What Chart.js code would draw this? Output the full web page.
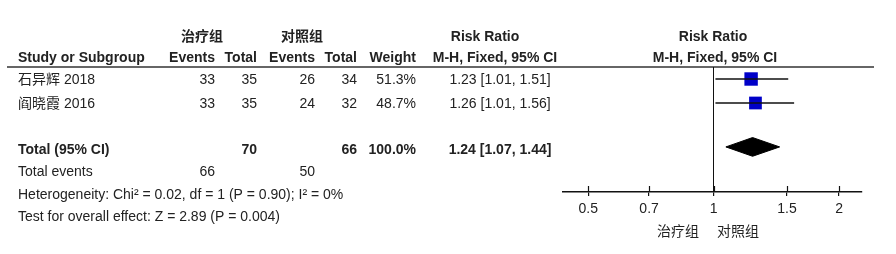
<!DOCTYPE html>
<html><head><meta charset="utf-8">
<script src="https://cdn.jsdelivr.net/npm/chart.js@4/dist/chart.umd.min.js"></script>
<style>html,body{margin:0;padding:0;background:#fff;}#c{display:block;}</style>
</head><body>
<canvas id="c" width="896" height="254"></canvas>
<script>
// ---- data ----
const studies = ['石异辉 2018', '阎晓霞 2016'];
const expEvents = [33, 33];
const expTotal = [35, 35];
const ctlEvents = [26, 24];
const ctlTotal = [34, 32];
const weights = [51.3, 48.7];
const rr = [1.23, 1.26];
const rrLow = [1.01, 1.01];
const rrHigh = [1.51, 1.56];
const totalExpN = 70, totalCtlN = 66, totalWeight = 100.0;
const totalRR = 1.24, totalLow = 1.07, totalHigh = 1.44;
const totalExpEvents = 66, totalCtlEvents = 50;
const heterogeneity = 'Heterogeneity: Chi² = 0.02, df = 1 (P = 0.90); I² = 0%';
const overallTest = 'Test for overall effect: Z = 2.89 (P = 0.004)';
const xTicks = [0.5, 0.7, 1, 1.5, 2];
const groupLabels = ['治疗组', '对照组'];
// row positions (row index units)
const studyRows = [0.5, 1.5];
const totalRow = 3.33;

const FONT = "'Liberation Sans', Arial, 'Noto Sans CJK SC', sans-serif";
const TXT = '#222';
const FS = 14;
const fmtCI = (m, l, h) => `${m.toFixed(2)} [${l.toFixed(2)}, ${h.toFixed(2)}]`;

const datasets = [];
// CI whiskers
studies.forEach((s, i) => {
  datasets.push({
    type: 'scatter', showLine: true, borderColor: '#111', borderWidth: 1.3,
    pointRadius: 0, data: [{x: rrLow[i], y: studyRows[i]}, {x: rrHigh[i], y: studyRows[i]}]
  });
});
// squares
datasets.push({
  type: 'scatter', showLine: false, pointStyle: 'rect',
  backgroundColor: '#0000c8', borderColor: '#0000c8', borderWidth: 0,
  pointRadius: weights.map(w => w * 0.185),
  data: studies.map((s, i) => ({x: rr[i], y: studyRows[i]}))
});
// diamond
const dh = 0.39;
datasets.push({
  type: 'scatter', showLine: true, fill: 'shape', backgroundColor: '#000', borderColor: '#000',
  borderWidth: 1, pointRadius: 0, tension: 0,
  data: [{x: totalLow, y: totalRow}, {x: totalRR, y: totalRow - dh}, {x: totalHigh, y: totalRow},
         {x: totalRR, y: totalRow + dh}, {x: totalLow, y: totalRow}]
});

function txt(ctx, s, x, y, align, bold, size) {
  ctx.font = (bold ? 'bold ' : '') + (size || FS) + 'px ' + FONT;
  ctx.textAlign = align || 'left';
  ctx.textBaseline = 'middle';
  ctx.fillStyle = TXT;
  ctx.fillText(s, x, y);
}

const forestPlugin = {
  id: 'forest',
  beforeDatasetsDraw(chart) {
    const ctx = chart.ctx, xs = chart.scales.x, a = chart.chartArea;
    ctx.save();
    // header rule
    ctx.strokeStyle = '#333'; ctx.lineWidth = 1.5;
    ctx.beginPath(); ctx.moveTo(7, a.top); ctx.lineTo(874, a.top); ctx.stroke();
    // line of no effect
    const x1 = Math.round(xs.getPixelForValue(1)) - 0.5;
    ctx.strokeStyle = '#111'; ctx.lineWidth = 1;
    ctx.beginPath(); ctx.moveTo(x1, a.top); ctx.lineTo(x1, a.bottom); ctx.stroke();
    // upward tick parts
    ctx.lineWidth = 1.2;
    xTicks.forEach(v => {
      const px = Math.round(xs.getPixelForValue(v)) + 0.5;
      ctx.beginPath(); ctx.moveTo(px, a.bottom - 6); ctx.lineTo(px, a.bottom); ctx.stroke();
    });
    ctx.restore();
  },
  afterDraw(chart) {
    const ctx = chart.ctx, xs = chart.scales.x, ys = chart.scales.y;
    ctx.save();
    // headers
    txt(ctx, '治疗组', 202, 37, 'center', true);
    txt(ctx, '对照组', 302, 37, 'center', true);
    txt(ctx, 'Risk Ratio', 485, 37, 'center', true);
    txt(ctx, 'Risk Ratio', 713, 37, 'center', true);
    txt(ctx, 'Study or Subgroup', 18, 58, 'left', true);
    txt(ctx, 'Events', 215, 58, 'right', true);
    txt(ctx, 'Total', 257, 58, 'right', true);
    txt(ctx, 'Events', 315, 58, 'right', true);
    txt(ctx, 'Total', 357, 58, 'right', true);
    txt(ctx, 'Weight', 416, 58, 'right', true);
    txt(ctx, 'M-H, Fixed, 95% CI', 495, 58, 'center', true);
    txt(ctx, 'M-H, Fixed, 95% CI', 715, 58, 'center', true);
    // study rows
    studies.forEach((s, i) => {
      const y = ys.getPixelForValue(studyRows[i]) + 1.5;
      txt(ctx, s, 18, y, 'left');
      txt(ctx, String(expEvents[i]), 215, y, 'right');
      txt(ctx, String(expTotal[i]), 257, y, 'right');
      txt(ctx, String(ctlEvents[i]), 315, y, 'right');
      txt(ctx, String(ctlTotal[i]), 357, y, 'right');
      txt(ctx, weights[i].toFixed(1) + '%', 416, y, 'right');
      txt(ctx, fmtCI(rr[i], rrLow[i], rrHigh[i]), 500, y, 'center');
    });
    // total
    txt(ctx, 'Total (95% CI)', 18, 150, 'left', true);
    txt(ctx, String(totalExpN), 257, 150, 'right', true);
    txt(ctx, String(totalCtlN), 357, 150, 'right', true);
    txt(ctx, totalWeight.toFixed(1) + '%', 416, 150, 'right', true);
    txt(ctx, fmtCI(totalRR, totalLow, totalHigh), 500, 150, 'center', true);
    txt(ctx, 'Total events', 18, 172, 'left');
    txt(ctx, String(totalExpEvents), 215, 172, 'right');
    txt(ctx, String(totalCtlEvents), 315, 172, 'right');
    txt(ctx, heterogeneity, 18, 195, 'left');
    txt(ctx, overallTest, 18, 217, 'left');
    // favours labels
    txt(ctx, groupLabels[0], 678, 232, 'center');
    txt(ctx, groupLabels[1], 738, 232, 'center');
    ctx.restore();
  }
};

new Chart(document.getElementById('c'), {
  type: 'scatter',
  data: {datasets},
  options: {
    responsive: false, animation: false,
    layout: {padding: {left: 563, right: 34, top: 67, bottom: 0}},
    plugins: {legend: {display: false}, tooltip: {enabled: false}},
    scales: {
      x: {
        type: 'logarithmic', min: 0.435, max: 2.27,
        afterBuildTicks: s => { s.ticks = xTicks.map(v => ({value: v})); },
        afterFit: s => { s.height = 62; },
        grid: {display: true, drawOnChartArea: false, drawTicks: true, tickLength: 4, color: '#111', lineWidth: 1.2},
        border: {display: true, color: '#111', width: 1.5},
        ticks: {padding: 5, color: TXT, font: {family: FONT, size: FS}, maxRotation: 0, autoSkip: false,
                callback: v => String(v)}
      },
      y: {type: 'linear', reverse: true, min: 0, max: 125 / 24, display: false}
    }
  },
  plugins: [forestPlugin]
});
</script>
</body></html>
